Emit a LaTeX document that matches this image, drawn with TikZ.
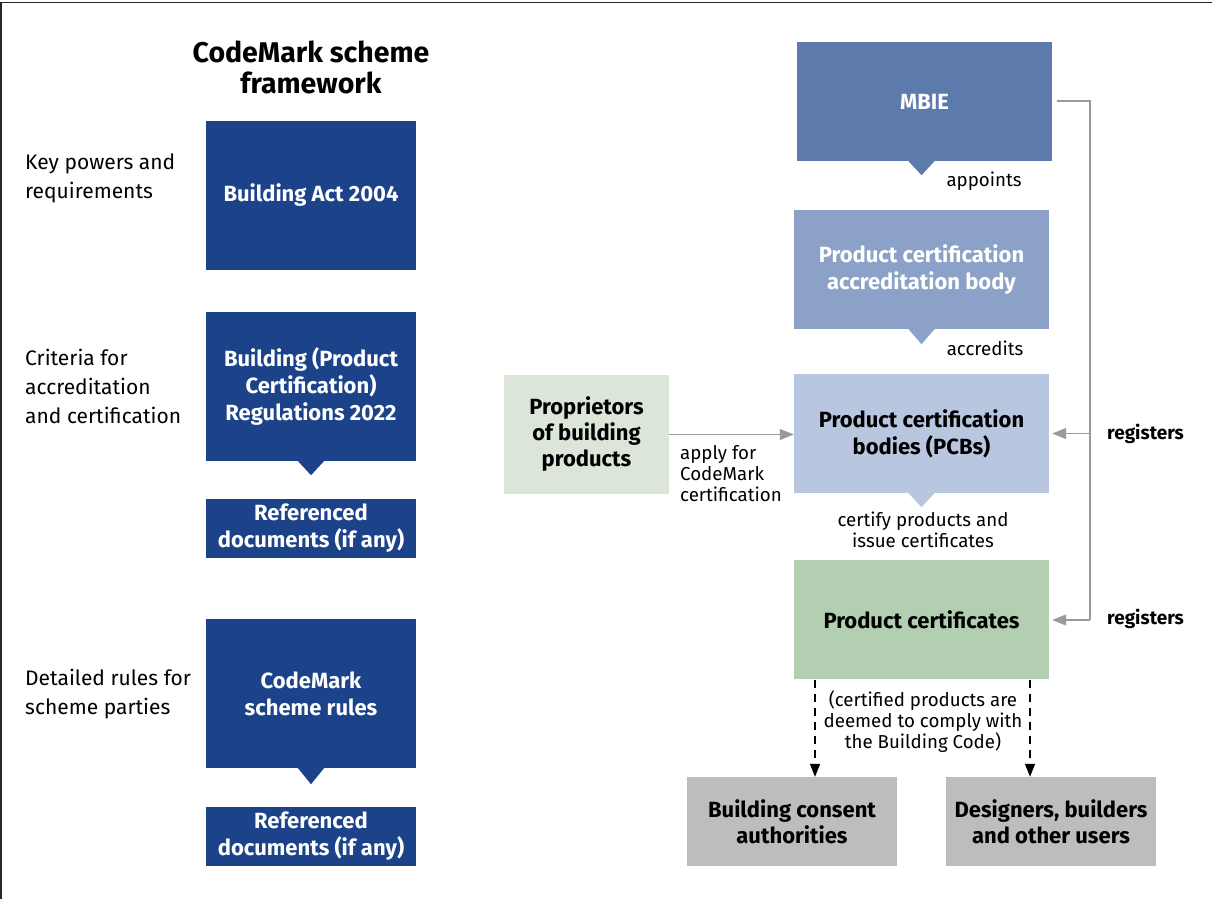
\documentclass[tikz,border=0pt]{standalone}
\usepackage{fontspec}
\setmainfont{Fira Sans}
\usetikzlibrary{arrows.meta,calc}
\definecolor{dkblue}{HTML}{1C438A}
\definecolor{mbiec}{HTML}{5D7AAC}
\definecolor{pcabc}{HTML}{8CA1C7}
\definecolor{pcbc}{HTML}{B9C6DF}
\definecolor{certc}{HTML}{B3CFB1}
\definecolor{propc}{HTML}{DCE6D8}
\definecolor{userc}{HTML}{BDBDBE}
\definecolor{connc}{HTML}{9A9A9A}
\tikzset{
  box/.style={inner sep=0pt, align=center, font=\fontsize{22}{27}\selectfont\bfseries},
  wbox/.style={box, text=white},
  side/.style={anchor=west, align=left, inner sep=0pt, font=\fontsize{21}{29}\selectfont},
  lbl/.style={inner sep=0pt, align=center, font=\fontsize{18.7}{21}\selectfont},
  conn/.style={draw=connc, line width=1.3pt},
  connarrow/.style={conn, -{Triangle[length=14pt,width=11pt]}},
  dasharrow/.style={draw=black, line width=1.2pt, dash pattern=on 8pt off 6pt, -{Triangle[length=13pt,width=10pt]}},
}
\newcommand{\pointer}[4]{\fill[#1] ($(#2.south)+(#4-13,0)$) -- ($(#2.south)+(#4+13,0)$) -- ($(#2.south)+(#4,#3)$) -- cycle;}
\begin{document}
\begin{tikzpicture}[x=1pt,y=-1pt]
\useasboundingbox (0,0) rectangle (1212,899);
\draw[line width=1.6pt, black!85] (1,899) -- (1,2.5) -- (1212,2.5);

% title
\node[inner sep=0pt, align=center, font=\fontsize{28.5}{31}\selectfont\bfseries] (title) at (311,67) {CodeMark scheme\\framework};

% left column
\node[wbox, fill=dkblue, minimum width=210pt, minimum height=149pt] (act) at (311,195.5) {Building Act 2004};
\node[wbox, fill=dkblue, minimum width=210pt, minimum height=149pt] (regs) at (311,386.5) {Building (Product\\Certification)\\Regulations 2022};
\pointer{dkblue}{regs}{14}{0}
\node[wbox, fill=dkblue, minimum width=210pt, minimum height=59pt] (ref1) at (311,528.5) {Referenced\\documents (if any)};
\node[wbox, fill=dkblue, minimum width=210pt, minimum height=149pt] (rules) at (311,693.5) {CodeMark\\scheme rules};
\pointer{dkblue}{rules}{16}{0}
\node[wbox, fill=dkblue, minimum width=210pt, minimum height=59pt] (ref2) at (311,836.5) {Referenced\\documents (if any)};

\node[side] (s1) at (25,178.5) {Key powers and\\requirements};
\node[side] (s2) at (25,386) {Criteria for\\accreditation\\and certification};
\node[side] (s3) at (25,694.5) {Detailed rules for\\scheme parties};

% right column
\node[wbox, fill=mbiec, minimum width=255pt, minimum height=119pt] (mbie) at (924.5,101.5) {MBIE};
\pointer{mbiec}{mbie}{14}{-3}
\node[lbl] (appoints) at (984,181) {appoints};

\node[wbox, fill=pcabc, minimum width=255pt, minimum height=119pt] (pcab) at (921.5,269.5) {Product certification\\accreditation body};
\pointer{pcabc}{pcab}{15}{0}
\node[lbl] (accredits) at (985,348) {accredits};

\node[box, fill=pcbc, minimum width=255pt, minimum height=119pt] (pcb) at (921.5,433.5) {Product certification\\bodies (PCBs)};
\pointer{pcbc}{pcb}{14}{0}
\node[lbl] (certify) at (923,530) {certify products and\\issue certificates};

\node[box, fill=certc, minimum width=255pt, minimum height=119pt] (cert) at (921.5,619.5) {Product certificates};

\node[box, fill=propc, minimum width=165pt, minimum height=119pt, font=\fontsize{22}{26}\selectfont\bfseries] (prop) at (586.5,434.5) {Proprietors\\of building\\products};

\draw[connarrow] (prop.east) -- (pcb.west |- prop.east);
\node[lbl, anchor=north west, align=left] (apply) at (680,445) {apply for\\CodeMark\\certification};

% registers
\coordinate (rtop) at (1090,101);
\coordinate (rbot) at (1090,620);
\draw[conn] ([xshift=5pt]mbie.east |- rtop) -- (rtop) -- (rbot);
\draw[connarrow] (pcb.east -| rbot) -- ([xshift=3pt]pcb.east);
\draw[connarrow] (rbot) -- ([xshift=3pt]cert.east |- rbot);
\node[inner sep=0pt, anchor=west, font=\fontsize{19}{21}\selectfont\bfseries] (reg1) at (1107,434) {registers};
\node[inner sep=0pt, anchor=west, font=\fontsize{19}{21}\selectfont\bfseries] (reg2) at (1107,619) {registers};

% users
\node[box, fill=userc, minimum width=210pt, minimum height=89pt, font=\fontsize{22}{26}\selectfont\bfseries] (bca) at (792,821.5) {Building consent\\authorities};
\node[box, fill=userc, minimum width=210pt, minimum height=89pt, font=\fontsize{22}{26}\selectfont\bfseries] (des) at (1051,821.5) {Designers, builders\\and other users};

\coordinate (d1) at (815,680);
\coordinate (d2) at (1030,680);
\draw[dasharrow] (d1) -- (d1 |- bca.north);
\draw[dasharrow] (d2) -- (d2 |- des.north);
\node[lbl] (deemed) at (923,722) {(certified products are\\deemed to comply with\\the Building Code)};
\end{tikzpicture}
\end{document}
